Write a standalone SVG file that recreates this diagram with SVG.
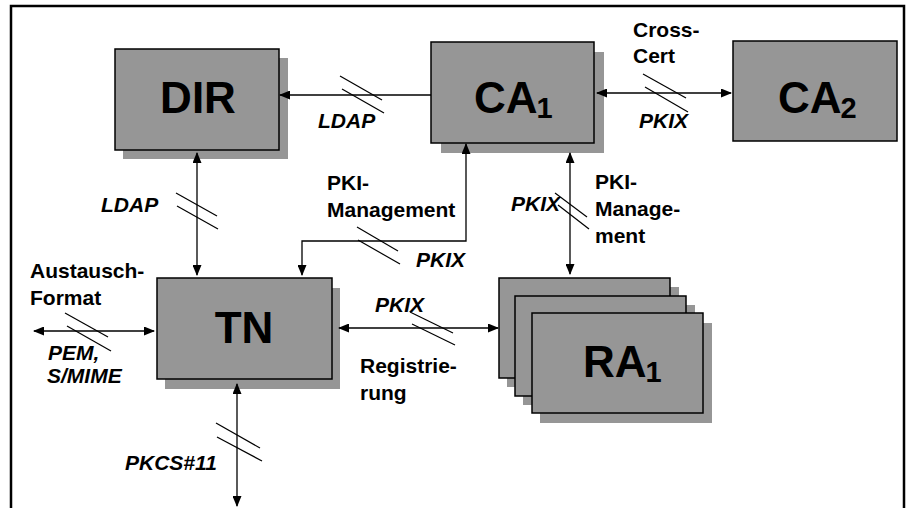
<svg xmlns="http://www.w3.org/2000/svg" width="907" height="508" viewBox="0 0 907 508">
<defs>
<marker id="ah" markerWidth="11" markerHeight="9" refX="10" refY="4.5" orient="auto-start-reverse" markerUnits="userSpaceOnUse">
<path d="M0,0 L11,4.5 L0,9 z" fill="#000"/>
</marker>
<style>
.box{fill:#969696;stroke:#000;stroke-width:1.5}
.sh{fill:#969696}
.big{font-family:"Liberation Sans",Arial,sans-serif;font-weight:bold;font-size:44px;fill:#000}
.sub{font-size:29px}
.lbl{font-family:"Liberation Sans",Arial,sans-serif;font-weight:bold;font-size:21px;fill:#000}
.it{font-style:italic}
.ln{stroke:#000;stroke-width:1.3;fill:none}
.sl{stroke:#000;stroke-width:1.2}
</style>
</defs>
<rect width="907" height="508" fill="#fff"/>
<path d="M11,510 L11,6 L904,6 L904,510" fill="none" stroke="#000" stroke-width="2.5"/>

<g id="DIR">
<rect class="sh" x="123" y="58" width="165" height="101"/>
<rect class="box" x="115" y="49" width="164" height="101"/>
<text class="big" x="198" y="113" text-anchor="middle">DIR</text>
</g>
<g id="CA1">
<rect class="sh" x="441" y="52" width="163" height="101"/>
<rect class="box" x="431" y="42" width="163" height="101"/>
<text class="big" x="474" y="113">CA<tspan class="sub" dx="-1" dy="5">1</tspan></text>
</g>
<g id="CA2">
<rect class="box" x="733" y="41" width="164" height="100"/>
<text class="big" x="778" y="113">CA<tspan class="sub" dx="-1" dy="5">2</tspan></text>
</g>
<g id="TN">
<rect class="sh" x="165" y="288" width="175" height="101"/>
<rect class="box" x="157" y="278" width="175" height="101"/>
<text class="big" x="244" y="343" text-anchor="middle">TN</text>
</g>
<g id="RA1">
<rect class="sh" x="507" y="287" width="172" height="100"/>
<rect class="box" x="499" y="278" width="171" height="100"/>
<rect class="sh" x="523" y="305" width="172" height="100"/>
<rect class="box" x="515" y="296" width="171" height="100"/>
<rect class="sh" x="540" y="323" width="172" height="100"/>
<rect class="box" x="532" y="313" width="171" height="100"/>
<text class="big" x="583" y="377">RA<tspan class="sub" dx="-1" dy="5">1</tspan></text>
</g>

<g id="connectors">
<line class="ln" x1="431" y1="95" x2="280" y2="95" marker-end="url(#ah)"/>
<line class="ln" x1="597" y1="93" x2="731" y2="93" marker-start="url(#ah)" marker-end="url(#ah)"/>
<line class="ln" x1="197" y1="153" x2="197" y2="275" marker-start="url(#ah)" marker-end="url(#ah)"/>
<path class="ln" d="M466,144 L466,241 L302,241 L302,275" marker-start="url(#ah)" marker-end="url(#ah)"/>
<line class="ln" x1="570" y1="153" x2="570" y2="274" marker-start="url(#ah)" marker-end="url(#ah)"/>
<line class="ln" x1="34" y1="331" x2="154" y2="331" marker-start="url(#ah)" marker-end="url(#ah)"/>
<line class="ln" x1="339" y1="328" x2="498" y2="328" marker-start="url(#ah)" marker-end="url(#ah)"/>
<line class="ln" x1="237" y1="384" x2="237" y2="506" marker-start="url(#ah)" marker-end="url(#ah)"/>

<line class="sl" x1="340" y1="76" x2="382" y2="100"/>
<line class="sl" x1="342" y1="89" x2="384" y2="113"/>
<line class="sl" x1="643" y1="74" x2="686" y2="98"/>
<line class="sl" x1="645" y1="87" x2="688" y2="112"/>
<line class="sl" x1="176" y1="193" x2="217" y2="216"/>
<line class="sl" x1="177" y1="206" x2="218" y2="229"/>
<line class="sl" x1="357" y1="227" x2="398" y2="251"/>
<line class="sl" x1="358" y1="240" x2="400" y2="264"/>
<line class="sl" x1="555" y1="193" x2="587" y2="217"/>
<line class="sl" x1="558" y1="205" x2="589" y2="229"/>
<line class="sl" x1="65" y1="313" x2="108" y2="337"/>
<line class="sl" x1="67" y1="326" x2="111" y2="351"/>
<line class="sl" x1="410" y1="312" x2="453" y2="333"/>
<line class="sl" x1="412" y1="324" x2="455" y2="345"/>
<line class="sl" x1="216" y1="423" x2="260" y2="448"/>
<line class="sl" x1="217" y1="437" x2="262" y2="461"/>
</g>

<g id="labels">
<text class="lbl it" x="318" y="128">LDAP</text>
<text class="lbl" x="633" y="37">Cross-</text>
<text class="lbl" x="633" y="63">Cert</text>
<text class="lbl it" x="639" y="128">PKIX</text>
<text class="lbl it" x="101" y="212">LDAP</text>
<text class="lbl" x="327" y="190">PKI-</text>
<text class="lbl" x="327" y="217">Management</text>
<text class="lbl it" x="416" y="267">PKIX</text>
<text class="lbl it" x="511" y="211">PKIX</text>
<text class="lbl" x="595" y="189">PKI-</text>
<text class="lbl" x="595" y="216">Manage-</text>
<text class="lbl" x="595" y="243">ment</text>
<text class="lbl" x="30" y="278">Austausch-</text>
<text class="lbl" x="30" y="305">Format</text>
<text class="lbl it" x="48" y="360">PEM,</text>
<text class="lbl it" x="47" y="383">S/MIME</text>
<text class="lbl it" x="375" y="312">PKIX</text>
<text class="lbl" x="360" y="373">Registrie-</text>
<text class="lbl" x="360" y="400">rung</text>
<text class="lbl it" x="125" y="470">PKCS#11</text>
</g>
</svg>
